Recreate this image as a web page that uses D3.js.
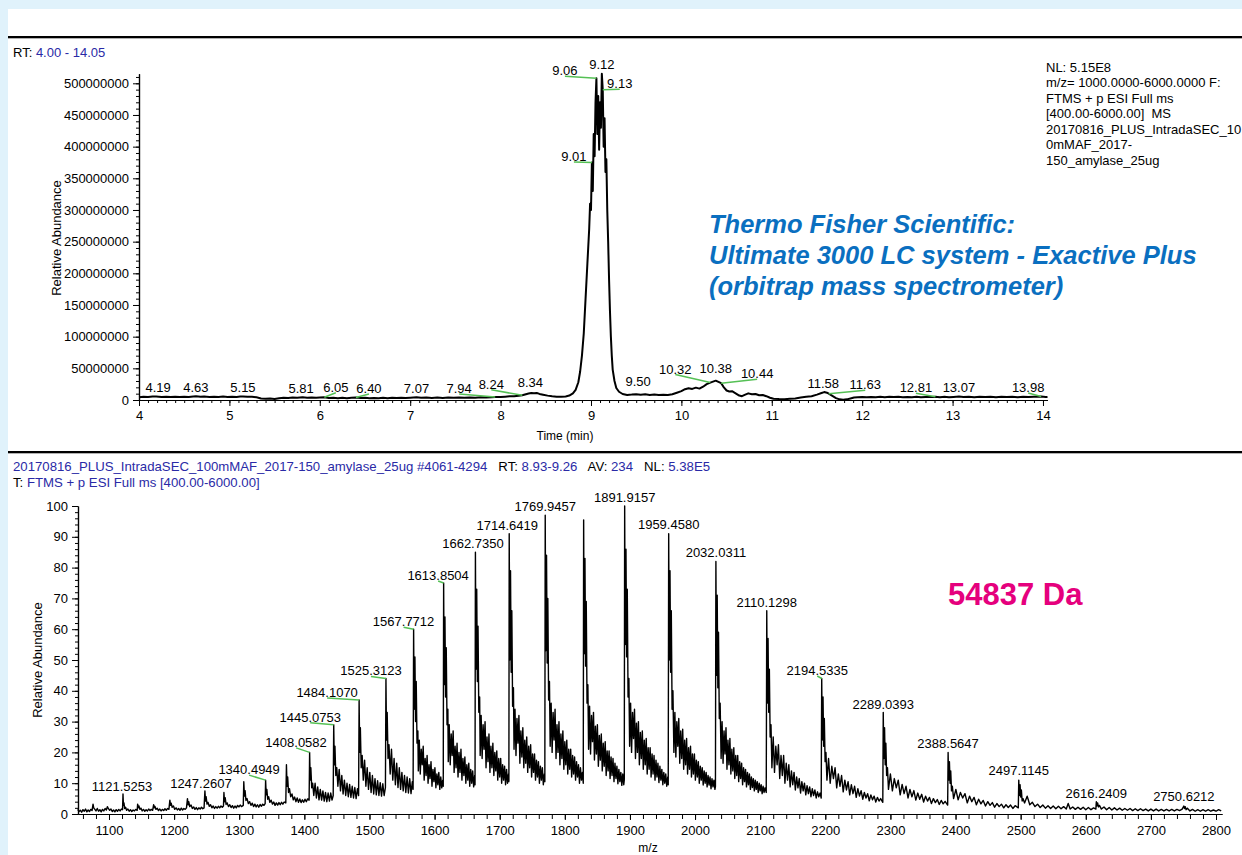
<!DOCTYPE html>
<html><head><meta charset="utf-8">
<script src="https://cdn.jsdelivr.net/npm/d3@7"></script>
<style>
html,body{margin:0;padding:0;background:#e0f2fb;}
svg{display:block;font-family:"Liberation Sans",Arial,sans-serif;}
</style></head><body>
<svg id="c" width="1242" height="855"></svg>
<script>
// ---------------- DATA ----------------
// Top: total ion chromatogram, [RT (min), intensity (x1e6)]
const chromatogram = [
[4.00,4.5],[4.05,5.2],[4.10,4.6],[4.15,5.4],[4.19,5.6],[4.25,4.8],[4.30,5.3],[4.35,4.7],[4.40,5.1],[4.45,4.6],[4.50,5.2],[4.55,4.9],[4.60,5.5],[4.63,5.8],[4.68,5.0],[4.72,5.4],[4.78,4.8],[4.83,5.3],[4.88,4.9],[4.93,5.4],[4.98,4.7],[5.03,5.2],[5.08,4.9],[5.12,5.5],[5.15,5.7],[5.20,5.0],[5.25,5.1],[5.30,4.2],[5.35,2.5],[5.40,1.8],[5.45,2.3],[5.50,1.6],[5.55,2.6],[5.60,3.4],[5.65,3.0],[5.70,3.8],[5.75,3.5],[5.81,4.4],[5.86,3.6],[5.91,4.0],[5.96,3.4],[6.00,3.8],[6.05,4.3],[6.10,3.2],[6.15,3.6],[6.20,2.9],[6.25,3.4],[6.30,2.8],[6.35,3.5],[6.40,4.0],[6.45,3.0],[6.50,3.5],[6.55,2.7],[6.60,3.3],[6.65,2.8],[6.70,3.4],[6.75,2.9],[6.80,3.5],[6.85,3.0],[6.90,3.6],[6.95,3.1],[7.00,3.7],[7.07,4.2],[7.12,3.4],[7.18,3.9],[7.24,3.2],[7.30,3.8],[7.36,3.3],[7.42,3.9],[7.48,3.4],[7.54,4.0],[7.60,3.5],[7.66,4.1],[7.72,3.7],[7.78,4.3],[7.84,3.8],[7.90,4.4],[7.94,4.8],[8.00,4.6],[8.05,5.3],[8.10,5.8],[8.15,6.0],[8.20,6.8],[8.24,7.4],[8.28,9.0],[8.31,10.2],[8.34,11.2],[8.37,10.6],[8.40,11.0],[8.43,9.6],[8.47,8.4],[8.52,6.9],[8.57,5.8],[8.62,5.2],[8.67,5.0],[8.72,5.6],[8.76,7.0],[8.80,10.5],[8.83,16],[8.86,28],[8.88,45],[8.90,70],[8.92,105],[8.94,160],[8.96,215],[8.98,270],[8.99,310],[9.00,300],[9.01,375],[9.02,330],[9.03,420],[9.04,385],[9.05,470],[9.06,508],[9.07,420],[9.08,480],[9.09,395],[9.10,470],[9.11,430],[9.12,515],[9.13,490],[9.14,400],[9.15,445],[9.16,360],[9.17,380],[9.18,300],[9.19,250],[9.20,190],[9.21,140],[9.22,100],[9.23,70],[9.24,48],[9.26,30],[9.28,19],[9.31,13],[9.35,9.5],[9.40,8.0],[9.45,8.5],[9.50,9.2],[9.55,8.4],[9.60,8.9],[9.65,8.0],[9.70,8.6],[9.75,7.8],[9.80,8.3],[9.85,7.9],[9.90,9.0],[9.95,11.5],[10.00,14.0],[10.04,17.0],[10.08,18.5],[10.12,17.5],[10.16,19.5],[10.20,18.0],[10.24,21.0],[10.28,25.0],[10.32,27.5],[10.35,29.0],[10.38,30.5],[10.41,28.5],[10.44,26.5],[10.47,20.0],[10.50,15.0],[10.53,13.5],[10.56,14.0],[10.60,10.5],[10.64,7.0],[10.67,6.0],[10.70,8.0],[10.74,10.5],[10.78,9.0],[10.82,9.5],[10.86,7.5],[10.90,8.0],[10.94,6.0],[10.98,3.5],[11.02,2.0],[11.08,1.5],[11.14,1.2],[11.20,1.8],[11.26,2.5],[11.32,4.0],[11.38,5.0],[11.44,6.0],[11.50,8.5],[11.55,11.0],[11.58,12.5],[11.61,11.5],[11.63,10.0],[11.67,6.5],[11.71,3.0],[11.75,1.0],[11.79,0.5],[11.83,1.0],[11.87,2.5],[11.91,4.0],[11.95,4.5],[12.00,4.8],[12.05,4.3],[12.10,4.9],[12.15,4.4],[12.20,5.0],[12.25,4.5],[12.30,5.1],[12.35,4.6],[12.40,5.0],[12.45,4.4],[12.50,4.9],[12.55,4.5],[12.60,5.0],[12.65,4.4],[12.70,4.9],[12.75,4.6],[12.81,5.3],[12.86,4.5],[12.91,5.0],[12.96,4.4],[13.01,4.9],[13.07,5.4],[13.12,4.6],[13.18,5.0],[13.24,4.5],[13.30,5.1],[13.36,4.6],[13.42,5.0],[13.48,4.5],[13.54,5.1],[13.60,4.6],[13.66,5.0],[13.72,4.5],[13.78,5.1],[13.84,4.6],[13.90,5.0],[13.98,5.4],[14.03,4.7],[14.05,4.9]
];
// Top peak annotations: label text and apex intensity (x1e6)
const topLabelRT  = ["4.19","4.63","5.15","5.81","6.05","6.40","7.07","7.94","8.24","8.34","9.06","9.12","9.13","9.01","9.50","10.32","10.38","10.44","11.58","11.63","12.81","13.07","13.98"];
const topLabelInt = [5.6,5.8,5.7,4.4,4.3,4.0,4.2,4.8,7.4,11.2,508,515,490,375,9.2,27.5,30.5,26.5,12.5,10.0,5.3,5.4,5.4];
const topXTicks = [4,5,6,7,8,9,10,11,12,13,14];
const topYTicks = [0,50,100,150,200,250,300,350,400,450,500];          // x1e6
const topYTickLabels = ["0","50000000","100000000","150000000","200000000","250000000","300000000","350000000","400000000","450000000","500000000"];

// Bottom: mass spectrum, [m/z, relative abundance]
const spectrum = [
[1052,1.5],[1054,0.8],[1056,1.2],[1058,0.6],[1060,1.4],[1062,0.9],[1064,1.6],[1066,0.7],[1068,1.3],[1070,0.8],[1072,1.5],[1074,1.1],[1075.5,3.2],[1076.5,2.0],[1078,1.6],[1080,1.0],[1082,1.8],[1084,0.9],[1086,1.4],[1088,0.7],[1090,1.5],[1092,1.0],[1094,1.8],[1096,1.3],[1097.5,2.4],[1099,1.8],[1101,1.2],[1103,1.6],[1105,0.8],[1107,1.3],[1109,0.7],[1111,1.4],[1113,0.9],[1115,1.5],[1117,1.0],[1119,1.6],[1120.8,1.4],[1121.5,6.5],[1122.2,2.8],[1123,3.6],[1124,1.8],[1125.5,2.2],[1127,1.2],[1129,1.6],[1131,0.9],[1133,1.4],[1135,0.8],[1137,1.3],[1139,1.0],[1141,1.5],[1143.3,1.2],[1144,3.2],[1145,2.0],[1146,2.6],[1147.5,1.5],[1149,1.9],[1151,1.0],[1153,1.5],[1155,0.9],[1157,1.4],[1159,1.0],[1161,1.6],[1163,1.1],[1165,1.5],[1167,1.2],[1168.5,3.0],[1169.5,2.0],[1170.5,2.5],[1172,1.5],[1174,1.9],[1176,1.1],[1178,1.6],[1180,1.0],[1182,1.5],[1184,1.1],[1186,1.7],[1188,1.2],[1190,1.8],[1192,1.5],[1193.5,4.5],[1194.5,2.8],[1195.5,3.5],[1197,2.2],[1199,2.6],[1201,1.5],[1203,2.0],[1205,1.3],[1207,1.8],[1209,1.2],[1211,1.9],[1213,1.3],[1215,1.8],[1217,1.5],[1219,2.0],[1220.5,5.0],[1221.5,3.0],[1222.5,4.0],[1224,2.4],[1226,2.9],[1228,1.8],[1230,2.3],[1232,1.5],[1234,2.1],[1236,1.4],[1238,2.0],[1240,1.6],[1242,2.2],[1244,1.7],[1246,2.0],[1247.3,7.5],[1248.2,4.2],[1249.2,5.6],[1250.5,3.2],[1252,3.8],[1254,2.5],[1256,3.0],[1258,2.0],[1260,2.6],[1262,1.8],[1264,2.4],[1266,1.9],[1268,2.5],[1270,2.0],[1272,2.6],[1274,2.2],[1275.8,2.6],[1276.5,7.0],[1277.4,4.0],[1278.4,5.3],[1279.8,3.1],[1281.5,3.6],[1283.5,2.4],[1285.5,3.0],[1287.5,2.1],[1289.5,2.7],[1291.5,1.9],[1293.5,2.6],[1295.5,2.0],[1297.5,2.8],[1299.5,2.3],[1301.5,2.9],[1303.5,2.4],[1306.2,2.8],[1307,10.5],[1308,5.8],[1309,7.6],[1310.3,4.4],[1312,5.0],[1314,3.4],[1316,4.0],[1318,2.8],[1320,3.5],[1322,2.4],[1324,3.2],[1326,2.3],[1328,3.0],[1330,2.2],[1332,3.1],[1334,2.5],[1336,3.2],[1338,2.8],[1339.8,3.4],[1340.5,11.0],[1341.4,6.2],[1342.4,8.0],[1343.7,4.8],[1345.2,5.6],[1347,3.8],[1349,4.5],[1351,3.2],[1353,3.9],[1355,2.8],[1357,3.6],[1359,2.9],[1361,3.7],[1363,3.0],[1365,3.8],[1367,3.2],[1369,3.9],[1371.5,3.6],[1372.5,16.0],[1373.4,9.0],[1374.4,12.0],[1375.7,7.0],[1377.2,8.2],[1379,5.6],[1381,6.5],[1383,4.6],[1385,5.5],[1387,4.0],[1389,5.2],[1391,3.8],[1393,4.9],[1395,3.7],[1397,4.6],[1399,3.8],[1401,4.8],[1403,4.0],[1405,4.9],[1407.3,4.5],
[1408.1,20.0],[1409,11.0],[1410,15.0],[1411.3,8.5],[1412.8,10.0],[1414.5,6],[1416.5,10],[1418.5,5.2],[1420.5,8.8],[1422.5,4.6],[1424.5,8],[1426.5,4.5],[1428.5,7.5],[1430.5,4.2],[1432.5,7],[1434.5,4],[1436.5,6.8],[1438.5,4.2],[1440.5,6.8],[1442.5,4.5],[1444.3,6],
[1445.1,29.0],[1446,16.0],[1447,22.0],[1448.3,12.5],[1449.8,15.0],[1451.5,9],[1453.5,14.5],[1455.5,7.5],[1457.5,12.5],[1459.5,6.5],[1461.5,11],[1463.5,6],[1465.5,10],[1467.5,5.6],[1469.5,9.6],[1471.5,5.4],[1473.5,9],[1475.5,5.2],[1477.5,8.6],[1479.5,5],[1481.5,8.2],[1483.3,6],
[1484.1,37.0],[1485,20.0],[1486,28.0],[1487.3,15.0],[1488.8,19.0],[1490.5,11],[1492.5,17.5],[1494.5,9],[1496.5,15],[1498.5,8],[1500.5,13.5],[1502.5,7],[1504.5,12.5],[1506.5,6.5],[1508.5,11.5],[1510.5,6.2],[1512.5,10.8],[1514.5,6],[1516.5,10.2],[1518.5,5.8],[1520.5,9.8],[1522.5,6],[1524.5,8.6],
[1525.3,44.0],[1526.2,24.0],[1527.2,33.0],[1528.5,18.0],[1530,22.5],[1531.8,13],[1533.8,21],[1535.8,11],[1537.8,18],[1539.8,9.5],[1541.8,16.5],[1543.8,8.6],[1545.8,15],[1547.8,8],[1549.8,13.5],[1551.8,7.5],[1553.8,12.5],[1555.8,7],[1557.8,12],[1559.8,6.8],[1561.8,11.5],[1563.8,6.6],[1565.8,10.5],[1567,8],
[1567.8,60],[1568.6,34],[1569.8,51],[1570.8,30],[1571.8,43],[1573,23],[1574.3,27],[1575,14],[1576.5,24],[1578,13],[1579.5,21],[1581,16],[1582.5,22],[1584,11],[1585.5,18],[1587,12.5],[1588.5,19],[1590,10],[1591.5,16],[1593,11.5],[1594.5,17],[1596,9],[1597.5,14.5],[1599,10.5],[1600.5,15],[1602,8.5],[1603.5,13],[1605,9.5],[1606.5,13.5],[1608,8],[1609.5,12],[1611,8.5],[1612.5,11],[1613.3,9],
[1613.9,75],[1614.7,42],[1615.9,64],[1616.9,38],[1617.9,54],[1619.1,29],[1620.4,34],[1621,17],[1622.5,29],[1624,16],[1625.5,26],[1627,19],[1628.5,27],[1630,13.5],[1631.5,22],[1633,15],[1634.5,23],[1636,12],[1637.5,20],[1639,13.5],[1640.5,21],[1642,11],[1643.5,18],[1645,12.5],[1646.5,18.5],[1648,10],[1649.5,16],[1651,11],[1652.5,16.5],[1654,9],[1655.5,14.5],[1657,10],[1658.5,14],[1660,8.8],[1661.5,12.5],[1662.1,9.5],
[1662.7,85],[1663.5,47],[1664.7,73],[1665.7,43],[1666.7,61],[1667.9,33],[1669.2,38],[1670,19],[1671.5,32],[1673,18],[1674.5,29],[1676,21],[1677.5,30],[1679,15],[1680.5,25],[1682,17],[1683.5,26],[1685,13.5],[1686.5,22],[1688,15],[1689.5,23],[1691,12.5],[1692.5,20],[1694,14],[1695.5,20.5],[1697,11],[1698.5,18],[1700,12],[1701.5,18],[1703,10],[1704.5,16],[1706,11],[1707.5,15.5],[1709,9.5],[1710.5,14.5],[1712,10],[1713.5,13],[1714.1,10.5],
[1714.6,91],[1715.4,50],[1716.6,79],[1717.6,46],[1718.6,66],[1719.8,35],[1721.1,41],[1722,21],[1723.5,34],[1725,19],[1726.5,31],[1728,23],[1729.5,32],[1731,16.5],[1732.5,27],[1734,18.5],[1735.5,28],[1737,15],[1738.5,24],[1740,16.5],[1741.5,25],[1743,13.5],[1744.5,22],[1746,15],[1747.5,22.5],[1749,12],[1750.5,19.5],[1752,13.5],[1753.5,19.5],[1755,11],[1756.5,17.5],[1758,12],[1759.5,17],[1761,10],[1762.5,15.5],[1764,11],[1765.5,15],[1767,9.5],[1768.5,13],[1769.3,10.5],
[1769.9,97],[1770.7,53],[1771.9,84],[1772.9,49],[1773.9,70],[1775.1,37],[1776.4,43],[1777.5,22],[1779,36],[1780.5,20],[1782,33],[1783.5,24],[1785,34],[1786.5,18],[1788,29],[1789.5,20],[1791,30],[1792.5,16],[1794,26],[1795.5,18],[1797,27],[1798.5,14.5],[1800,23.5],[1801.5,16],[1803,24],[1804.5,13],[1806,21],[1807.5,14.5],[1809,21],[1810.5,12],[1812,19],[1813.5,13],[1815,18.5],[1816.5,11],[1818,17],[1819.5,12],[1821,16],[1822.5,10],[1824,15],[1825.5,11],[1827,13.5],[1828.3,10],
[1828.9,95.5],[1829.7,52],[1830.9,83],[1831.9,48],[1832.9,69],[1834.1,36],[1835.4,42],[1836.5,21],[1838,35],[1839.5,19.5],[1841,32],[1842.5,23.5],[1844,33],[1845.5,17.5],[1847,28.5],[1848.5,19.5],[1850,29],[1851.5,15.5],[1853,25.5],[1854.5,17.5],[1856,26],[1857.5,14],[1859,23],[1860.5,15.5],[1862,23.5],[1863.5,12.5],[1865,20.5],[1866.5,14],[1868,20.5],[1869.5,11.5],[1871,18.5],[1872.5,12.5],[1874,18],[1875.5,10.5],[1877,16.5],[1878.5,11.5],[1880,15.5],[1881.5,9.8],[1883,14.5],[1884.5,10.5],[1886,13.5],[1887.5,9.3],[1889,13],[1890.5,9.5],[1891.3,11],
[1891.9,100],[1892.7,55],[1893.9,86],[1894.9,51],[1895.9,73],[1897.1,38],[1898.4,44],[1899.5,22],[1901,36],[1902.5,20],[1904,33],[1905.5,24.5],[1907,34],[1908.5,18],[1910,29.5],[1911.5,20],[1913,30],[1914.5,16],[1916,26.5],[1917.5,18],[1919,27],[1920.5,14.5],[1922,24],[1923.5,16],[1925,24.5],[1926.5,13],[1928,21.5],[1929.5,14.5],[1931,21.5],[1932.5,12],[1934,19.5],[1935.5,13],[1937,19],[1938.5,11],[1940,17.5],[1941.5,12],[1943,16.5],[1944.5,10.2],[1946,15.5],[1947.5,11],[1949,14.5],[1950.5,9.5],[1952,13.5],[1953.5,10],[1955,13],[1956.5,9],[1958,12],[1958.8,9.5],
[1959.5,91],[1960.3,50],[1961.5,79],[1962.5,46],[1963.5,66],[1964.7,34],[1966,40],[1967.5,20],[1969,33],[1970.5,18.5],[1972,30],[1973.5,22],[1975,31],[1976.5,16.5],[1978,27],[1979.5,18],[1981,27.5],[1982.5,14.5],[1984,24],[1985.5,16],[1987,24.5],[1988.5,13],[1990,21.5],[1991.5,14.5],[1993,22],[1994.5,12],[1996,19.5],[1997.5,13],[1999,19.5],[2000.5,11],[2002,17.5],[2003.5,12],[2005,17],[2006.5,10],[2008,15.5],[2009.5,11],[2011,15],[2012.5,9.4],[2014,14],[2015.5,10],[2017,13.5],[2018.5,8.8],[2020,12.5],[2021.5,9.4],[2023,12],[2024.5,8.2],[2026,11.5],[2027.5,8.8],[2029,11],[2030.5,8],[2031.3,9],
[2032,82],[2032.8,45],[2034,71],[2035,41],[2036,59],[2037.2,31],[2038.5,36],[2040,18],[2041.5,30],[2043,16.5],[2044.5,27],[2046,19.5],[2047.5,28],[2049,14.5],[2050.5,24],[2052,16],[2053.5,24.5],[2055,13],[2056.5,21],[2058,14],[2059.5,21.5],[2061,11.5],[2062.5,19],[2064,12.5],[2065.5,19],[2067,10.5],[2068.5,17],[2070,11.5],[2071.5,16.5],[2073,9.5],[2074.5,15],[2076,10.5],[2077.5,14.5],[2079,8.8],[2080.5,13.5],[2082,9.5],[2083.5,13],[2085,8],[2086.5,12],[2088,8.6],[2089.5,11.5],[2091,7.5],[2092.5,11],[2094,8],[2095.5,10.5],[2097,7],[2098.5,10],[2100,7.5],[2101.5,9.5],[2103,6.6],[2104.5,9],[2106,7],[2107.5,8.5],[2109.3,7],
[2110.1,66],[2110.9,36],[2112.1,57],[2113.1,33],[2114.1,47],[2115.3,25],[2116.6,29],[2118,15],[2120,25],[2122,13.5],[2124,22],[2126,16],[2128,22.5],[2130,11.5],[2132,19],[2134,12.5],[2136,19],[2138,10],[2140,16.5],[2142,11],[2144,16],[2146,8.8],[2148,14],[2150,9.5],[2152,13.5],[2154,7.8],[2156,12],[2158,8.5],[2160,11.5],[2162,6.8],[2164,10.5],[2166,7.5],[2168,10],[2170,6.2],[2172,9.2],[2174,6.6],[2176,8.8],[2178,5.6],[2180,8.2],[2182,6],[2184,7.8],[2186,5.2],[2188,7.2],[2190,5.6],[2192,6.8],[2193.7,5.2],
[2194.5,44],[2195.3,24],[2196.5,38],[2197.5,22],[2198.5,31],[2199.7,17],[2201,20],[2202.5,11],[2205,18],[2207.5,10],[2210,15.5],[2212.5,11.5],[2215,15],[2217.5,8.5],[2220,13],[2222.5,9],[2225,12.5],[2227.5,7.2],[2230,11],[2232.5,7.8],[2235,10.5],[2237.5,6.2],[2240,9.5],[2242.5,6.6],[2245,9],[2247.5,5.4],[2250,8.2],[2252.5,5.8],[2255,7.6],[2257.5,4.8],[2260,7],[2262.5,5.2],[2265,6.6],[2267.5,4.3],[2270,6.2],[2272.5,4.6],[2275,5.8],[2277.5,3.9],[2280,5.4],[2282.5,4.2],[2285,5],[2288.3,3.8],
[2289,33],[2289.8,18],[2291,28],[2292,16],[2293,23],[2294.2,12.5],[2295.5,15],[2297,8],[2300,13],[2303,7.5],[2306,11.5],[2309,8.5],[2312,11],[2315,6.2],[2318,9.6],[2321,6.6],[2324,9],[2327,5.2],[2330,8],[2333,5.6],[2336,7.6],[2339,4.5],[2342,6.8],[2345,4.8],[2348,6.4],[2351,3.9],[2354,5.8],[2357,4.2],[2360,5.4],[2363,3.4],[2366,5],[2369,3.7],[2372,4.7],[2375,3.1],[2378,4.4],[2381,3.3],[2384,4.1],[2387.9,2.9],
[2388.6,20],[2389.4,11],[2390.6,17],[2391.6,10],[2392.6,14],[2393.8,7.5],[2395.1,9],[2397,5],[2400.5,8],[2404,4.6],[2407.5,7],[2411,5.2],[2414.5,6.6],[2418,3.6],[2421.5,5.8],[2425,4],[2428.5,5.4],[2432,3],[2435.5,4.8],[2439,3.3],[2442.5,4.4],[2446,2.6],[2449.5,4],[2453,2.8],[2456.5,3.7],[2460,2.2],[2463.5,3.4],[2467,2.4],[2470.5,3.2],[2474,2],[2477.5,3],[2481,2.1],[2484.5,2.9],[2488,1.8],[2491.5,2.7],[2496.4,2],
[2497.1,11],[2497.9,6],[2499.1,9.5],[2500.1,5.5],[2501.1,7.8],[2502.3,4.2],[2503.6,5],[2506,3.6],[2510,5.8],[2514,3],[2518,3.8],[2522,2.4],[2526,3.2],[2530,2.1],[2534,2.9],[2538,1.9],[2542,2.7],[2546,1.8],[2550,2.6],[2554,1.7],[2558,2.5],[2562,1.7],[2566,2.4],[2570,1.6],[2573,3.4],[2576,1.6],[2580,2.3],[2584,1.5],[2588,2.2],[2592,1.5],[2596,2.2],[2600,1.4],[2604,2.1],[2608,1.4],[2612,2],[2615.5,1.6],
[2616.2,4],[2617,2.6],[2618.2,3.6],[2619.5,2.3],[2621,2.8],[2624,1.6],[2628,2.3],[2632,1.4],[2636,2.1],[2640,1.3],[2644,2.0],[2648,1.3],[2652,1.9],[2656,1.2],[2660,1.8],[2664,1.2],[2668,1.8],[2672,1.1],[2676,1.7],[2680,1.1],[2684,1.7],[2688,1.1],[2692,1.6],[2696,1.0],[2700,1.6],[2704,1.0],[2708,1.6],[2712,1.0],[2716,1.5],[2720,1.0],[2724,1.5],[2728,1.0],[2732,1.5],[2736,1.0],[2740,1.5],[2744,1.1],[2748,1.6],
[2750.6,2.6],[2751.5,1.8],[2752.7,2.4],[2754,1.4],[2756,1.9],[2760,1.0],[2764,1.5],[2768,0.9],[2772,1.4],[2776,0.9],[2780,1.4],[2784,0.9],[2788,1.4],[2792,0.9],[2796,1.3],[2800,0.9],[2804,1.4],[2808,1.0]
];
// Bottom peak annotations: label text and apex abundance
const specLabelMz  = ["1121.5253","1247.2607","1340.4949","1408.0582","1445.0753","1484.1070","1525.3123","1567.7712","1613.8504","1662.7350","1714.6419","1769.9457","1891.9157","1959.4580","2032.0311","2110.1298","2194.5335","2289.0393","2388.5647","2497.1145","2616.2409","2750.6212"];
const specLabelInt = [6.5,7.5,11,20,29,37,44,60,75,85,91,97,100,91,82,66,44,33,20,11,4,2.6];
const bottomXTicks = [1100,1200,1300,1400,1500,1600,1700,1800,1900,2000,2100,2200,2300,2400,2500,2600,2700,2800];
const bottomYTicks = [0,10,20,30,40,50,60,70,80,90,100];

// ---------------- LAYOUT (label offsets in px: [dx, dy] from apex to label baseline centre) ----------------
const topLabelOffset = [[2,-4],[0,-4],[0,-4],[-1.5,-4.5],[11.5,-5.5],[13,-4.5],[0,-4.5],[-36,-4],[-31,-6.5],[-1,-6],[-31.5,-3],[0,-4.5],[17,-1.5],[-18,-1.5],[2,-8],[-35,-9],[0,-8],[36,-5],[-1,-4.5],[36.5,-4.5],[-19.5,-4.5],[0,-4.5],[-13,-4.5]];
const specLabelOffset = [[-1,-3],[-4,-3],[-16.5,-6],[-13.5,-5.5],[-23.5,-3],[-32,-3],[-15,-3],[-10,-3],[-5.5,-3],[-2.5,-4.5],[-2,-3.5],[0,-4],[0,-4],[0,-4.5],[0,-4],[0,-4],[-4.5,-3.5],[0,-3.5],[0,-4],[0,-5],[0,-4],[0,-5]];

// ---------------- DRAW ----------------
const svg = d3.select("#c");
const W = 1242, H = 855;
const FONT = '"Liberation Sans", Arial, sans-serif';
const BLUE = "#2a2aa6";

svg.append("rect").attr("x",8).attr("y",9).attr("width",W-8).attr("height",H-9).attr("fill","#ffffff");

function separator(y){
  svg.append("line").attr("x1",8).attr("x2",W).attr("y1",y+1.5).attr("y2",y+1.5).attr("stroke","#b0b0b0").attr("stroke-width",1);
  svg.append("line").attr("x1",8).attr("x2",W).attr("y1",y).attr("y2",y).attr("stroke","#000").attr("stroke-width",2);
}
separator(37);
separator(452);

function styleAxis(g, size){
  g.selectAll("path.domain").attr("stroke","#000").attr("stroke-width",1.2);
  g.selectAll(".tick line").attr("stroke","#000").attr("stroke-width",1);
  g.selectAll("text").attr("fill","#000").attr("font-size",size).attr("font-family",FONT);
}

const txt = (x,y,s,opt={}) => {
  const t = svg.append("text").attr("x",x).attr("y",y).attr("font-family",FONT)
    .attr("font-size",opt.size||13).attr("fill",opt.fill||"#000").text(s);
  if(opt.anchor) t.attr("text-anchor",opt.anchor);
  if(opt.weight) t.attr("font-weight",opt.weight);
  if(opt.style) t.attr("font-style",opt.style);
  return t;
};

// ---- Top chart ----
const xT = d3.scaleLinear().domain([4.0,14.05]).range([139,1047.5]);
const yT = d3.scaleLinear().domain([0,515]).range([400,73.8]);

{
  const t = svg.append("text").attr("x",13).attr("y",56.5).attr("font-family",FONT).attr("font-size",13);
  t.append("tspan").attr("fill","#000").text("RT: ");
  t.append("tspan").attr("fill",BLUE).text("4.00 - 14.05");
}

const minorTopX = d3.range(40,141).map(d=>d/10);
svg.append("g").attr("transform","translate(0,400)")
  .call(d3.axisBottom(xT).tickValues(minorTopX).tickSize(3).tickFormat("").tickSizeOuter(0))
  .call(g=>styleAxis(g,13));
svg.append("g").attr("transform","translate(0,400)")
  .call(d3.axisBottom(xT).tickValues(topXTicks).tickSize(6).tickPadding(5).tickFormat(d3.format("d")).tickSizeOuter(0))
  .call(g=>styleAxis(g,13));

const minorTopY = d3.range(0,52).map(d=>d*10);
svg.append("g").attr("transform","translate(139,0)")
  .call(d3.axisLeft(yT).tickValues(minorTopY).tickSize(3).tickFormat("").tickSizeOuter(0))
  .call(g=>styleAxis(g,13));
svg.append("g").attr("transform","translate(139,0)")
  .call(d3.axisLeft(yT).tickValues(topYTicks).tickSize(6).tickPadding(4).tickFormat((d,i)=>topYTickLabels[i]).tickSizeOuter(0))
  .call(g=>styleAxis(g,13));

txt(565,440,"Time (min)",{anchor:"middle",size:12});
svg.append("text").attr("transform","translate(61,238) rotate(-90)").attr("text-anchor","middle")
  .attr("font-family",FONT).attr("font-size",13).attr("fill","#000").text("Relative Abundance");

const lineT = d3.line().x(d=>xT(d[0])).y(d=>yT(d[1]));
svg.append("path").datum(chromatogram).attr("d",lineT).attr("fill","none")
  .attr("stroke","#000").attr("stroke-width",2).attr("stroke-linejoin","round");

const GREEN = "#55c055";
topLabelRT.forEach((s,i)=>{
  const px = xT(+s), py = yT(topLabelInt[i]);
  const [dx,dy] = topLabelOffset[i];
  const ax = px+dx, ay = py+dy;
  if (Math.abs(dx) > 4) {
    svg.append("line").attr("x1",ax).attr("y1",ay+1).attr("x2",px).attr("y2",py)
      .attr("stroke",GREEN).attr("stroke-width",1.5);
  }
  txt(ax,ay,s,{anchor:"middle",size:13});
});

const infoLines = ["NL: 5.15E8","m/z= 1000.0000-6000.0000 F:","FTMS + p ESI Full ms","[400.00-6000.00]  MS","20170816_PLUS_IntradaSEC_10","0mMAF_2017-","150_amylase_25ug"];
infoLines.forEach((s,i)=> txt(1046, 71.5 + i*15.5, s, {size:13}).attr("xml:space","preserve"));

const noteLines = ["Thermo Fisher Scientific:","Ultimate 3000 LC system - Exactive Plus","(orbitrap mass spectrometer)"];
noteLines.forEach((s,i)=> txt(709, 233 + i*31, s, {size:25.5, weight:"bold", style:"italic", fill:"#0a6fc0"}));

// ---- Bottom chart ----
{
  const t = svg.append("text").attr("x",13).attr("y",470.5).attr("font-family",FONT).attr("font-size",13.2).attr("xml:space","preserve");
  t.append("tspan").attr("fill",BLUE).text("20170816_PLUS_IntradaSEC_100mMAF_2017-150_amylase_25ug #4061-4294");
  t.append("tspan").attr("fill","#000").text("   RT: ");
  t.append("tspan").attr("fill",BLUE).text("8.93-9.26");
  t.append("tspan").attr("fill","#000").text("   AV: ");
  t.append("tspan").attr("fill",BLUE).text("234");
  t.append("tspan").attr("fill","#000").text("   NL: ");
  t.append("tspan").attr("fill",BLUE).text("5.38E5");
  const t2 = svg.append("text").attr("x",13).attr("y",486.5).attr("font-family",FONT).attr("font-size",13.2).attr("xml:space","preserve");
  t2.append("tspan").attr("fill","#000").text("T: ");
  t2.append("tspan").attr("fill",BLUE).text("FTMS + p ESI Full ms [400.00-6000.00]");
}

const xB = d3.scaleLinear().domain([1052.4,2809.2]).range([78,1222]);
const yB = d3.scaleLinear().domain([0,100]).range([814,506]);

const minorBX = d3.range(53,141).map(d=>d*20);
svg.append("g").attr("transform","translate(0,814)")
  .call(d3.axisBottom(xB).tickValues(minorBX).tickSize(5).tickFormat("").tickSizeOuter(0))
  .call(g=>styleAxis(g,13));
svg.append("g").attr("transform","translate(0,814)")
  .call(d3.axisBottom(xB).tickValues(bottomXTicks).tickSize(6).tickPadding(6).tickFormat(d3.format("d")).tickSizeOuter(0))
  .call(g=>styleAxis(g,13));
const minorBY = d3.range(0,51).map(d=>d*2);
svg.append("g").attr("transform","translate(78,0)")
  .call(d3.axisLeft(yB).tickValues(minorBY).tickSize(3).tickFormat("").tickSizeOuter(0))
  .call(g=>styleAxis(g,13));
svg.append("g").attr("transform","translate(78,0)")
  .call(d3.axisLeft(yB).tickValues(bottomYTicks).tickSize(6).tickPadding(4).tickFormat(d3.format("d")).tickSizeOuter(0))
  .call(g=>styleAxis(g,13));

txt(648,852,"m/z",{anchor:"middle",size:12});
svg.append("text").attr("transform","translate(42,660) rotate(-90)").attr("text-anchor","middle")
  .attr("font-family",FONT).attr("font-size",13).attr("fill","#000").text("Relative Abundance");

const lineB = d3.line().x(d=>xB(d[0])).y(d=>yB(d[1]));
svg.append("path").datum(spectrum).attr("d",lineB).attr("fill","none")
  .attr("stroke","#000").attr("stroke-width",1.4).attr("stroke-linejoin","round");

specLabelMz.forEach((s,i)=>{
  const px = xB(+s), py = yB(specLabelInt[i]);
  const [dx,dy] = specLabelOffset[i];
  const ax = px+dx, ay = py+dy;
  if (Math.abs(dx) > 4) {
    svg.append("line").attr("x1",ax).attr("y1",ay+1).attr("x2",px).attr("y2",py)
      .attr("stroke",GREEN).attr("stroke-width",1.5);
  }
  txt(ax,ay,s,{anchor:"middle",size:13});
});

txt(948,605,"54837 Da",{size:31,weight:"bold",fill:"#e5007d"});
</script>
</body></html>
